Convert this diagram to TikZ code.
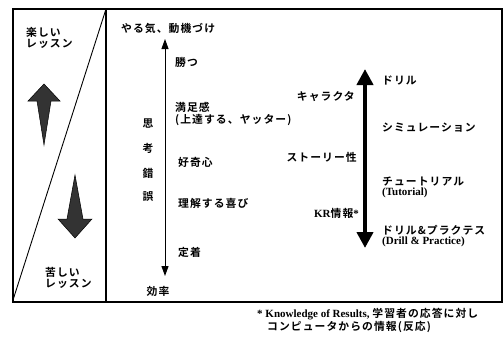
\documentclass[tikz,border=0pt]{standalone}
\usetikzlibrary{arrows.meta}
\usepackage{fontspec}
\setmainfont{Liberation Serif}
\newfontfamily\jp{Noto Sans CJK JP}[LetterSpace=10,BoldFont={Noto Sans CJK JP Bold},BoldFeatures={LetterSpace=10}]
\newcommand\jpf{\jp\bfseries\fontsize{10.8}{13}\selectfont}
\newcommand\latf{\rmfamily\bfseries\fontsize{11}{12}\selectfont}
\begin{document}
\begin{tikzpicture}[x=1pt,y=-1pt,
  lab/.style={inner sep=0pt,font=\jpf},
  frame/.style={line width=1.2pt},
  fat/.style={fill=black!80,draw=black,line width=0.5pt}]
\useasboundingbox (0,0) rectangle (504,341);
% frame
\draw[frame] (13,9) rectangle (502,302);
\draw[frame] (106,9) -- (106,302);
\draw[line width=0.9pt] (106,9) -- (13,300);
% left panel
\node[lab,anchor=west,align=left] (fun) at (26,38) {楽しい\\[-2pt]レッスン};
\node[lab,anchor=west,align=left] (hard) at (45,278) {苦しい\\[-2pt]レッスン};
\filldraw[fat] (44,84) -- (60,101) -- (51,101) -- (44,145) -- (37,101) -- (28,101) -- cycle;
\filldraw[fat] (75,238) -- (92,219) -- (83,219) -- (75,175) -- (67,219) -- (58,219) -- cycle;
% middle column
\node[lab,anchor=west] (motiv) at (121,28) {やる気、動機づけ};
\node[lab] (eff) at (158,291) {効率};
\coordinate (mtop) at (165,39);
\coordinate (mbot) at (165,276);
\draw[line width=1pt,-{Triangle[length=10pt,width=7pt]}] (165,270) -- (mtop);
\draw[line width=1pt,-{Triangle[length=10pt,width=7pt]}] (165,60) -- (mbot);
\node[lab,anchor=west] (win) at (175,62) {勝つ};
\node[lab,anchor=west,align=left] (sat) at (175,114) {満足感\\[-1pt](上達する、ヤッター)};
\node[lab,anchor=west] (cur) at (178,162) {好奇心};
\node[lab,anchor=west] (joy) at (178,203) {理解する喜び};
\node[lab,anchor=west] (fix) at (178,252) {定着};
\node[lab] (s1) at (148,124) {思};
\node[lab] (s2) at (148,148) {考};
\node[lab] (s3) at (148,173) {錯};
\node[lab] (s4) at (148,197) {誤};
% right column
\coordinate (rtop) at (365,69);
\coordinate (rbot) at (365,248);
\draw[line width=4.5pt,-{Triangle[length=16pt,width=16pt]}] (365,160) -- (rtop);
\draw[line width=4.5pt,-{Triangle[length=16pt,width=16pt]}] (365,150) -- (rbot);
\node[lab,anchor=east] (chara) at (355,97) {キャラクタ};
\node[lab,anchor=east] (story) at (357,157) {ストーリー性};
\node[anchor=east,inner sep=0pt] (kr) at (359,213) {{\latf KR}{\jpf 情報}{\latf *}};
\node[lab,anchor=west] (drill) at (382,80) {ドリル};
\node[lab,anchor=west] (sim) at (382,128) {シミュレーション};
\node[anchor=west,align=left,inner sep=0pt] (tut) at (382,187) {{\jpf チュートリアル}\\[-2pt]{\latf (Tutorial)}};
\node[anchor=west,align=left,inner sep=0pt] (dp) at (382,236) {{\jpf ドリル\&プラクテス}\\[-2pt]{\latf (Drill \& Practice)}};
% footnote
\node[anchor=west,align=left,inner sep=0pt] (note) at (257,320) {{\latf * Knowledge of Results, }{\jpf 学習者の応答に対し}\\[1pt]\hspace{10pt}{\jpf コンピュータからの情報(反応)}};
\end{tikzpicture}
\end{document}
